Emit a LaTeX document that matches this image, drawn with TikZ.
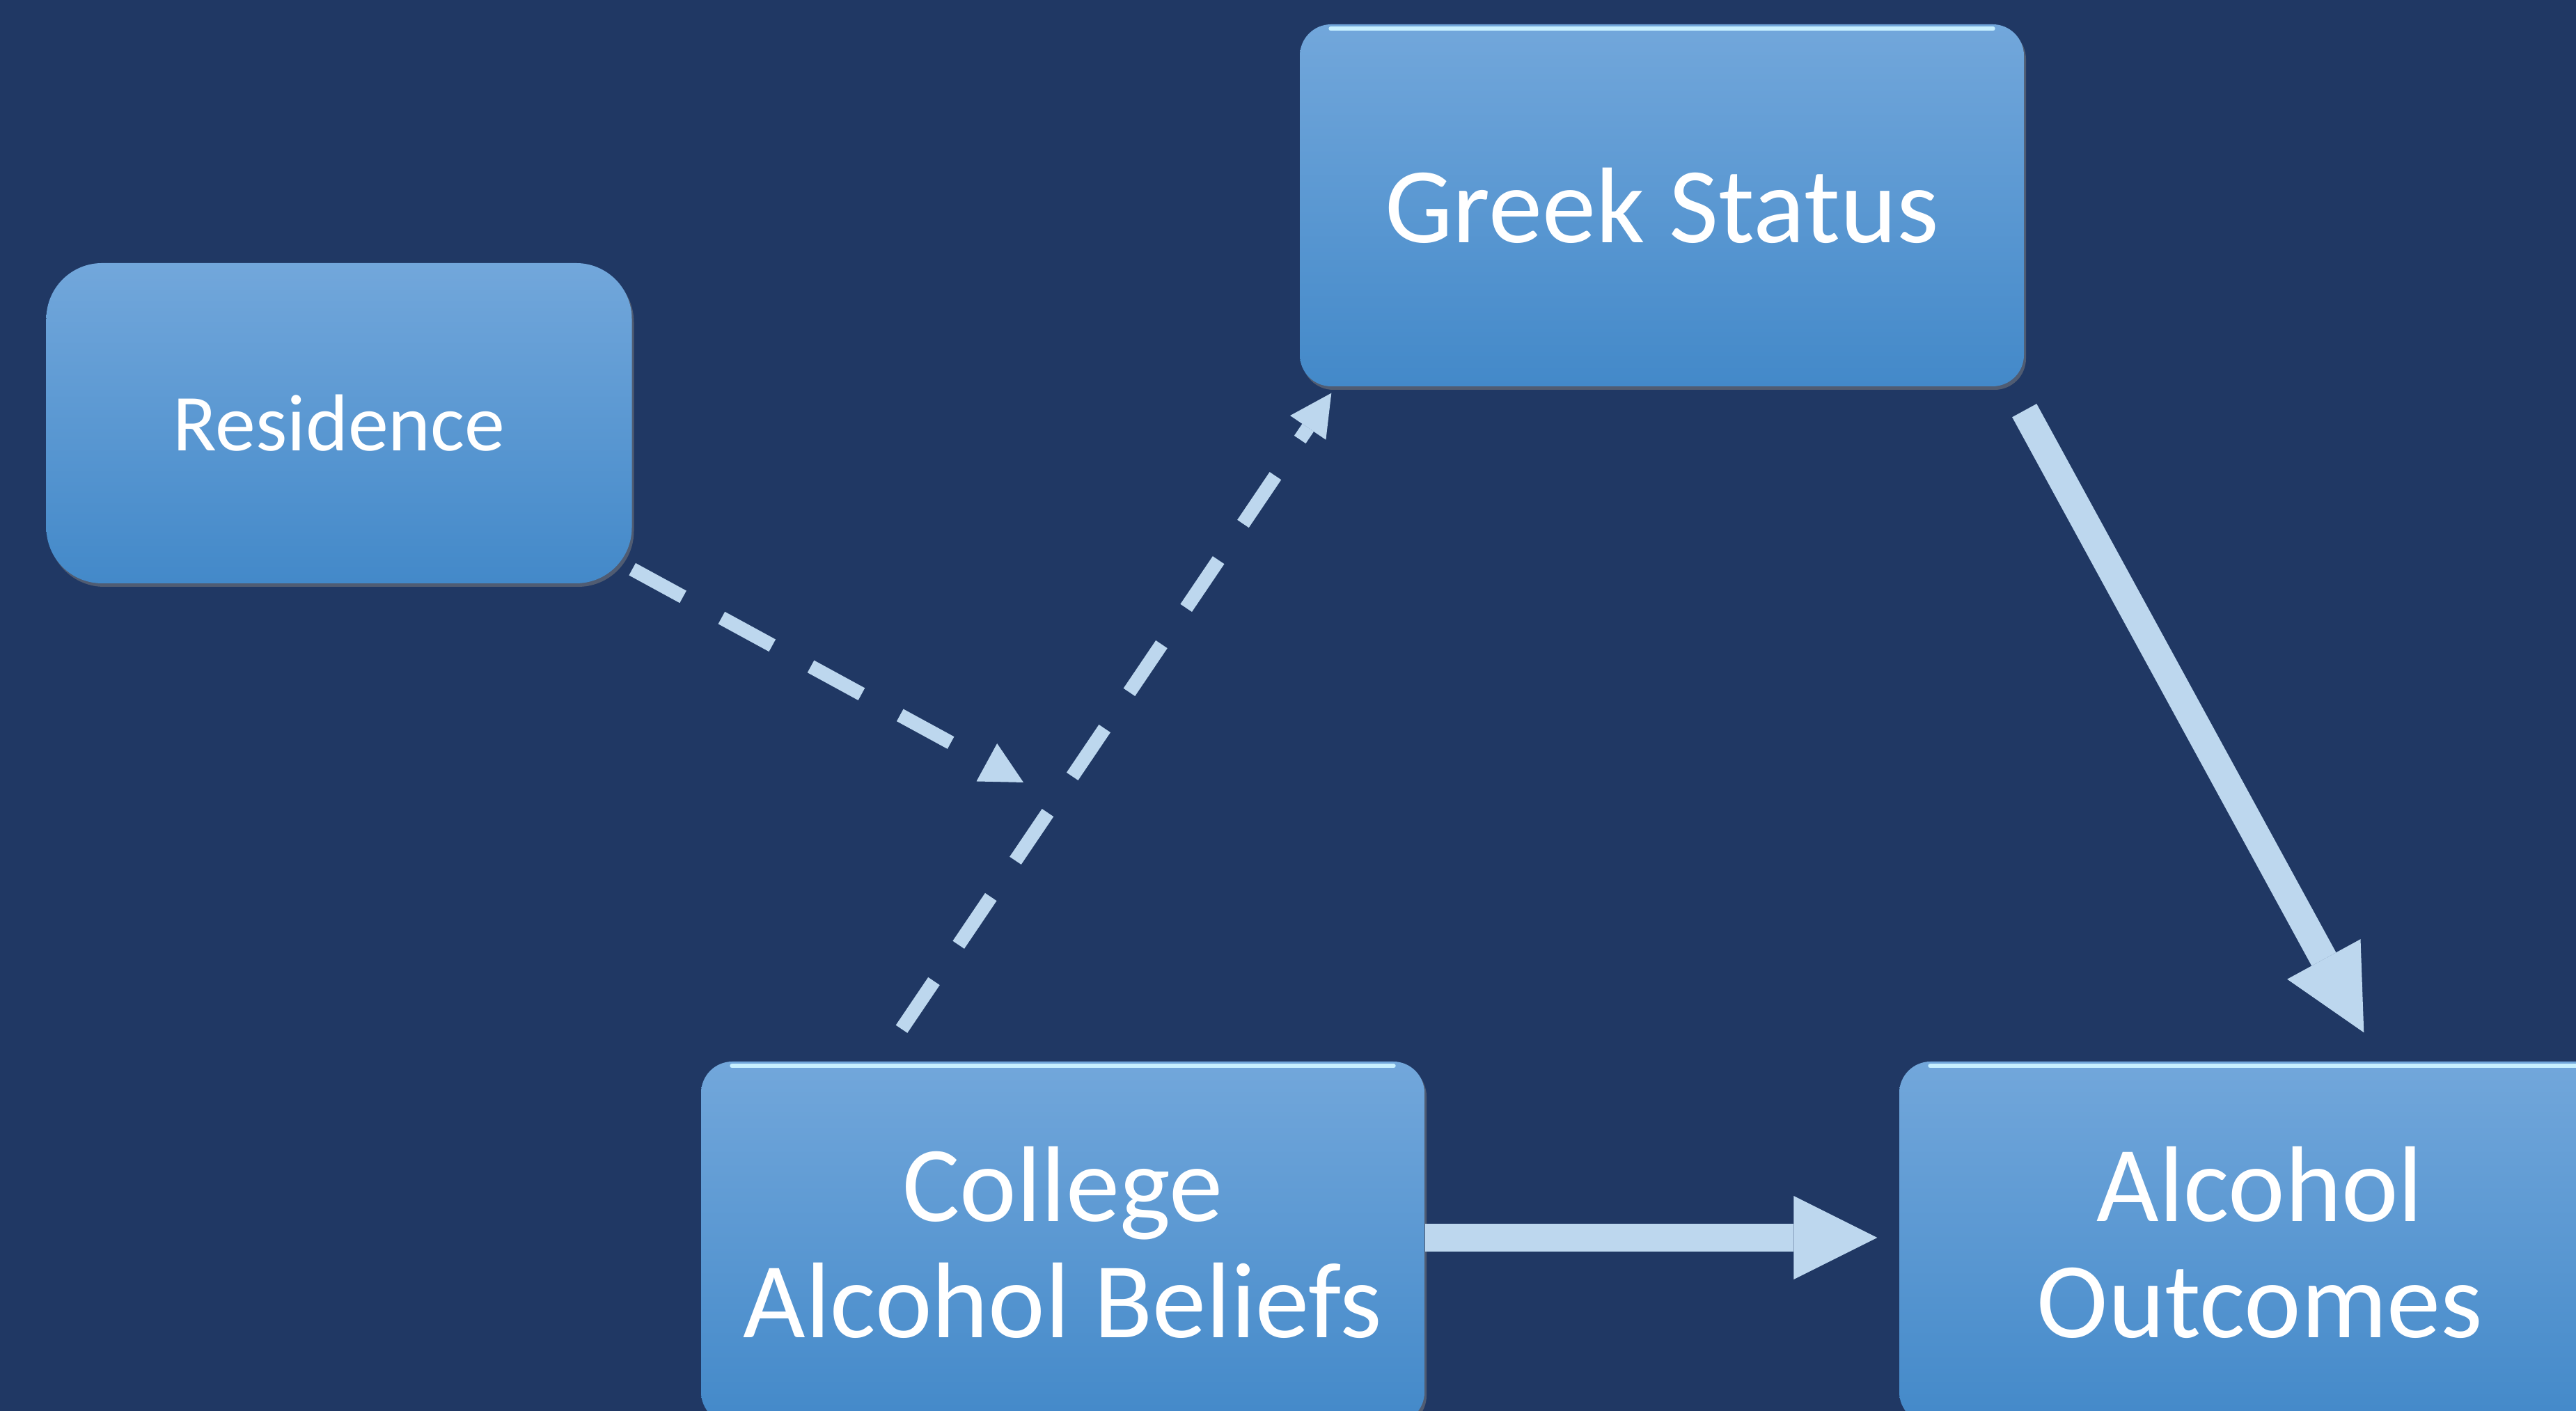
\documentclass[tikz,border=0pt]{standalone}
\usepackage{fontspec}
\setmainfont{Carlito}
\usetikzlibrary{arrows.meta,shadows}

\definecolor{slidebg}{RGB}{32,56,100}
\definecolor{boxtop}{RGB}{114,167,219}
\definecolor{boxbottom}{RGB}{67,137,201}
\definecolor{arrowblue}{RGB}{189,215,238}
\definecolor{rimcyan}{RGB}{200,240,255}

\tikzset{
  varbox/.style={rectangle, rounded corners=0.45cm, top color=boxtop, bottom color=boxbottom,
    text=white, align=center, inner sep=0pt, font=\fontsize{44}{47.5}\selectfont,
    drop shadow={shadow xshift=0.03cm, shadow yshift=-0.05cm, opacity=0.5}},
  rim/.style={draw=rimcyan, line width=0.06cm, line cap=round},
  linkarrow/.style={draw=arrowblue, line width=0.4cm,
    -{Triangle[width=1.2cm, length=1.2cm, line width=0pt]}},
  dasharrow/.style={draw=arrowblue, line width=0.2cm, dash pattern=on 0.83cm off 0.63cm,
    -{Triangle[width=0.62cm, length=0.6cm, line width=0pt]}}
}

\begin{document}
\begin{tikzpicture}

% slide
\fill[slidebg] (0,0) rectangle (37,20.27);
\useasboundingbox (0,0) rectangle (37,20.27);

% residence
\node[varbox, rounded corners=0.8cm, minimum width=8.41cm, minimum height=4.6cm,
  font=\fontsize{33}{36}\selectfont] (residence) at (4.87,14.19) {Residence};

% greek status
\node[varbox, minimum width=10.4cm, minimum height=5.2cm] (greek) at (23.87,17.32) {Greek Status};
\draw[rim] ([xshift=0.45cm, yshift=-0.07cm]greek.north west) -- ([xshift=-0.45cm, yshift=-0.07cm]greek.north east);

% college alcohol beliefs
\node[varbox, minimum width=10.39cm, minimum height=5.2cm] (college) at (15.265,2.42) {College\\Alcohol Beliefs};
\draw[rim] ([xshift=0.45cm, yshift=-0.07cm]college.north west) -- ([xshift=-0.45cm, yshift=-0.07cm]college.north east);

% alcohol outcomes
\node[varbox, minimum width=10.36cm, minimum height=5.2cm] (outcomes) at (32.46,2.42) {Alcohol\\Outcomes};
\draw[rim] ([xshift=0.45cm, yshift=-0.07cm]outcomes.north west) -- ([xshift=-0.45cm, yshift=-0.07cm]outcomes.north east);

% where residence points
\coordinate (moderate) at (14.70,9.03);

% solid arrows
\draw[linkarrow] ([yshift=-0.34cm]greek.south east) -- ([xshift=6.68cm, yshift=0.41cm]outcomes.north west);
\draw[linkarrow] ([yshift=0.07cm]college.east) -- ([xshift=-0.31cm, yshift=0.07cm]outcomes.west);

% dashed arrows
\draw[dasharrow] ([xshift=-2.315cm, yshift=0.46cm]college.north) -- ([xshift=0.46cm, yshift=-0.09cm]greek.south west);
\draw[dasharrow] ([yshift=0.21cm]residence.south east) -- (moderate);

\end{tikzpicture}
\end{document}
